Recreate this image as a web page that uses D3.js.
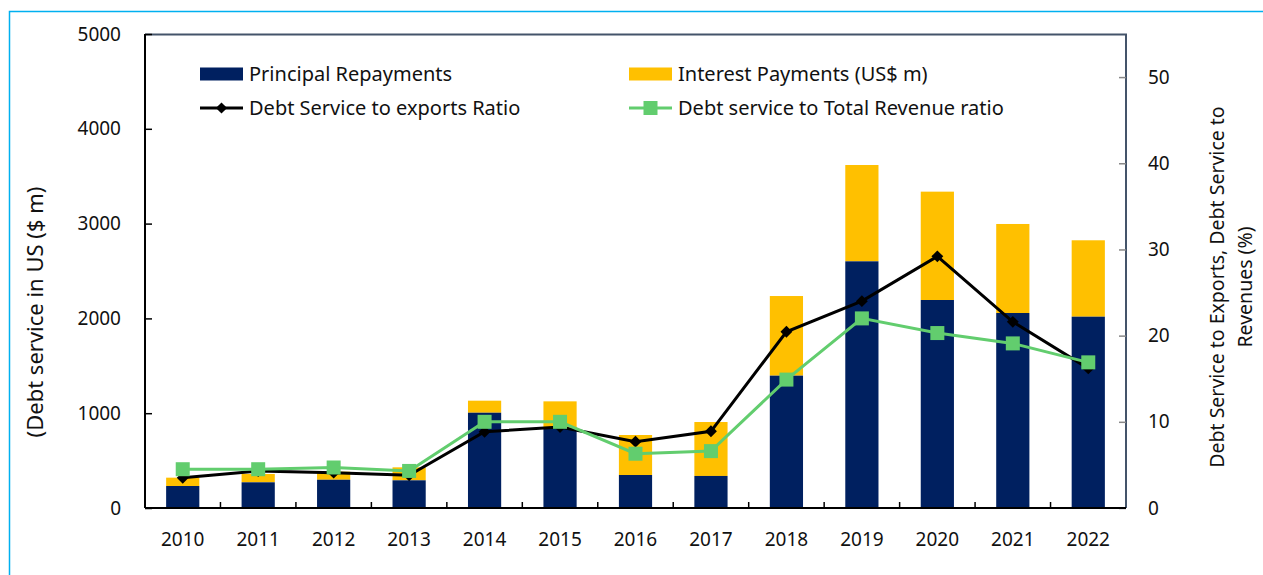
<!DOCTYPE html>
<html>
<head>
<meta charset="utf-8">
<script src="https://cdn.jsdelivr.net/npm/d3@7"></script>
<style>
  body { margin: 0; background: #fff; }
  svg text { font-family: "Noto Sans", "Open Sans", sans-serif; fill: #111; }
</style>
</head>
<body>
<div id="chart"></div>
<script>
const years = ['2010', '2011', '2012', '2013', '2014', '2015', '2016', '2017',
  '2018', '2019', '2020', '2021', '2022'];
const principal = [232, 271, 298, 292, 1005, 840, 348, 338, 1396, 2602, 2194, 2057, 2018];
const interest = [88, 88, 85, 137, 127, 285, 422, 569, 840, 1016, 1143, 939, 806];
const exportsRatio = [3.5, 4.3, 4.1, 3.8, 8.85, 9.4, 7.7, 8.9, 20.45, 24.0, 29.2, 21.6, 16.2];
const revenueRatio = [4.5, 4.5, 4.7, 4.3, 10.0, 10.0, 6.3, 6.6, 14.9, 22.0, 20.3, 19.1, 16.9];
const leftTicks = [0, 1000, 2000, 3000, 4000, 5000];
const rightTicks = [0, 10, 20, 30, 40, 50];

const W = 1263;
const H = 575;
const margin = {
  top: 34, right: 137, bottom: 67, left: 145,
};
const width = W - margin.left - margin.right;
const height = H - margin.top - margin.bottom;

const navy = '#002060';
const gold = '#ffc000';
const green = '#62cd6e';

const svg = d3.select('#chart').append('svg')
  .attr('width', W)
  .attr('height', H);

// light blue frame round the figure
svg.append('path')
  .attr('d', `M9.5,${H} V11.5 H${W}`)
  .attr('fill', 'none')
  .attr('stroke', '#00b0f0')
  .attr('stroke-width', 1.5);

const g = svg.append('g')
  .attr('transform', `translate(${margin.left}, ${margin.top})`);

const x = d3.scaleBand().domain(years).range([0, width]).paddingInner(0.56).paddingOuter(0.28);
const xc = d => x(d) + x.bandwidth() / 2;
const y = d3.scaleLinear().domain([0, 5000]).range([height, 0]);
const y2 = d3.scaleLinear().domain([0, 55]).range([height, 0]);

// plot frame (top and right)
g.append('path')
  .attr('d', `M0,0.5 H${width} V${height}`)
  .attr('fill', 'none')
  .attr('stroke', '#44546a')
  .attr('stroke-width', 2);

// stacked bars
const stack = years.map((d, i) => ({ year: d, p: principal[i], t: principal[i] + interest[i] }));

g.selectAll('.interest')
  .data(stack)
  .enter().append('rect')
  .attr('class', 'interest')
  .attr('x', d => x(d.year))
  .attr('width', x.bandwidth())
  .attr('y', d => y(d.t))
  .attr('height', d => y(d.p) - y(d.t))
  .style('fill', gold);

g.selectAll('.principal')
  .data(stack)
  .enter().append('rect')
  .attr('class', 'principal')
  .attr('x', d => x(d.year))
  .attr('width', x.bandwidth())
  .attr('y', d => y(d.p))
  .attr('height', d => y(0) - y(d.p))
  .style('fill', navy);

// left axis
g.append('g')
  .attr('class', 'y axis')
  .call(d3.axisLeft(y).tickValues(leftTicks).tickSize(-7).tickPadding(24)
    .tickFormat(d3.format('d')))
  .call(a => a.select('.domain').remove())
  .call(a => a.selectAll('line').attr('stroke', '#000').attr('stroke-width', 1.5))
  .call(a => a.selectAll('text').style('font-size', '19px'));

g.append('line')
  .attr('x1', 0).attr('x2', 0)
  .attr('y1', 0).attr('y2', height)
  .attr('stroke', '#000')
  .attr('stroke-width', 2);

// right axis
g.append('g')
  .attr('class', 'y2 axis')
  .attr('transform', `translate(${width}, 0)`)
  .call(d3.axisRight(y2).tickValues(rightTicks).tickSize(-7).tickPadding(22))
  .call(a => a.select('.domain').remove())
  .call(a => a.selectAll('line').attr('stroke', '#888').attr('stroke-width', 1.5))
  .call(a => a.selectAll('text').style('font-size', '19px').attr('text-anchor', 'start'));

// bottom axis with ticks between categories
const xAxis = g.append('g')
  .attr('class', 'x axis')
  .attr('transform', `translate(0, ${height})`);

xAxis.selectAll('.sep')
  .data(years.slice(1))
  .enter().append('line')
  .attr('class', 'sep')
  .attr('x1', d => x(d) - (x.step() - x.bandwidth()) / 2)
  .attr('x2', d => x(d) - (x.step() - x.bandwidth()) / 2)
  .attr('y1', 0)
  .attr('y2', -6)
  .attr('stroke', '#000')
  .attr('stroke-width', 1.5);

xAxis.append('line')
  .attr('x1', 0).attr('x2', width)
  .attr('stroke', '#000')
  .attr('stroke-width', 2);

xAxis.selectAll('.yearLabel')
  .data(years)
  .enter().append('text')
  .attr('class', 'yearLabel')
  .attr('x', xc)
  .attr('y', 38)
  .attr('text-anchor', 'middle')
  .style('font-size', '19px')
  .text(d => d);

// lines
const line = d3.line().x((d, i) => xc(years[i])).y(d => y2(d));

g.append('path')
  .datum(exportsRatio)
  .attr('d', line)
  .attr('fill', 'none')
  .attr('stroke', '#000')
  .attr('stroke-width', 3);

g.selectAll('.diamond')
  .data(exportsRatio)
  .enter().append('path')
  .attr('class', 'diamond')
  .attr('d', d3.symbol(d3.symbolDiamond2, 90))
  .attr('transform', (d, i) => `translate(${xc(years[i])}, ${y2(d)})`)
  .attr('fill', '#000');

g.append('path')
  .datum(revenueRatio)
  .attr('d', line)
  .attr('fill', 'none')
  .attr('stroke', green)
  .attr('stroke-width', 3);

g.selectAll('.square')
  .data(revenueRatio)
  .enter().append('rect')
  .attr('class', 'square')
  .attr('x', (d, i) => xc(years[i]) - 7)
  .attr('y', d => y2(d) - 7)
  .attr('width', 14)
  .attr('height', 14)
  .attr('fill', green);

// axis titles
svg.append('text')
  .attr('transform', 'translate(43, 312) rotate(-90)')
  .attr('text-anchor', 'middle')
  .style('font-size', '22px')
  .text('(Debt service in US ($ m)');

const rt = svg.append('text')
  .attr('transform', 'translate(1224, 287) rotate(-90)')
  .attr('text-anchor', 'middle')
  .style('font-size', '19.5px');
rt.append('tspan').attr('x', 0).attr('dy', 0).text('Debt Service to Exports, Debt Service to');
rt.append('tspan').attr('x', 0).attr('dy', 28).text('Revenues (%)');

// legend
const legendItems = [
  { label: 'Principal Repayments', type: 'bar', color: navy, x: 200, y: 74 },
  { label: 'Interest Payments (US$ m)', type: 'bar', color: gold, x: 629, y: 74 },
  { label: 'Debt Service to exports Ratio', type: 'diamond', color: '#000', x: 200, y: 108 },
  { label: 'Debt service to Total Revenue ratio', type: 'square', color: green, x: 629, y: 108 },
];

const legend = svg.selectAll('.legend')
  .data(legendItems)
  .enter().append('g')
  .attr('class', 'legend')
  .attr('transform', d => `translate(${d.x}, ${d.y})`);

legend.filter(d => d.type === 'bar').append('rect')
  .attr('y', -6.5)
  .attr('width', 43)
  .attr('height', 13)
  .style('fill', d => d.color);

legend.filter(d => d.type !== 'bar').append('line')
  .attr('x1', 0).attr('x2', 43)
  .attr('stroke', d => d.color)
  .attr('stroke-width', 3);

legend.filter(d => d.type === 'diamond').append('path')
  .attr('d', d3.symbol(d3.symbolDiamond2, 80))
  .attr('transform', 'translate(21.5, 0)')
  .attr('fill', '#000');

legend.filter(d => d.type === 'square').append('rect')
  .attr('x', 14.5).attr('y', -7)
  .attr('width', 14).attr('height', 14)
  .attr('fill', green);

legend.append('text')
  .attr('x', 49)
  .attr('dy', '0.35em')
  .style('font-size', '20px')
  .text(d => d.label);
</script>
</body>
</html>
